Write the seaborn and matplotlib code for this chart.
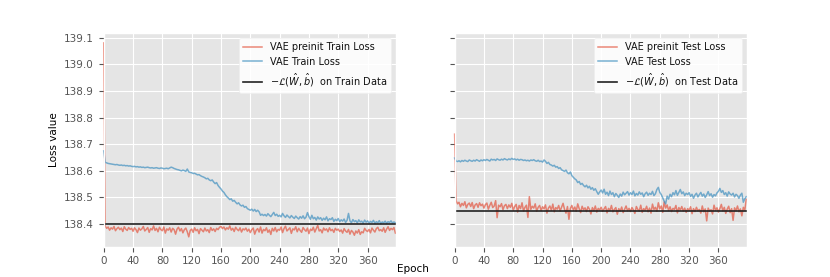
import numpy as np
import matplotlib
matplotlib.use('Agg')
import matplotlib.pyplot as plt
import seaborn as sns

# loss values, every 2nd epoch, in units of 0.001 above 138.0
epochs = list(range(0, 400, 2))

train_preinit = [
    1081, 392, 384, 389, 377, 386, 381, 391, 375, 383, 388, 379, 385, 372, 390, 381, 376, 387, 380, 384,
    373, 386, 379, 368, 385, 377, 382, 391, 374, 380, 387, 369, 383, 378, 393, 376, 384, 371, 388, 379,
    375, 389, 366, 382, 377, 386, 370, 384, 379, 362, 381, 388, 374, 383, 367, 379, 385, 371, 352, 376,
    381, 369, 386, 375, 380, 364, 383, 377, 371, 385, 374, 379, 368, 387, 376, 382, 372, 384, 379, 388,
    391, 383, 389, 378, 386, 381, 393, 377, 384, 372, 388, 380, 375, 386, 370, 382, 378, 385, 373, 381,
    368, 379, 385, 362, 377, 383, 370, 389, 366, 380, 375, 386, 369, 378, 361, 384, 374, 387, 371, 380,
    377, 389, 368, 383, 392, 374, 380, 386, 365, 382, 378, 390, 371, 384, 376, 369, 387, 379, 373, 385,
    364, 381, 376, 388, 370, 383, 395, 374, 379, 367, 385, 377, 382, 371, 386, 375, 380, 369, 384, 377,
    381, 372, 378, 366, 383, 374, 369, 380, 362, 376, 370, 358, 374, 366, 379, 361, 371, 367, 384, 376,
    372, 380, 367, 385, 377, 370, 383, 388, 375, 379, 373, 386, 369, 381, 390, 376, 384, 379, 387, 366,
]

train_vae = [
    675, 632, 630, 628, 627, 626, 625, 624, 623, 624, 622, 621, 622, 620, 621, 619, 620, 618, 619, 617,
    616, 617, 615, 616, 614, 615, 613, 614, 612, 613, 614, 612, 611, 612, 610, 611, 612, 610, 609, 611,
    610, 608, 609, 610, 608, 611, 614, 612, 609, 607, 605, 604, 602, 600, 603, 601, 598, 607, 596, 594,
    593, 590, 591, 588, 585, 586, 582, 579, 577, 574, 570, 572, 566, 563, 566, 558, 552, 556, 545, 538,
    532, 524, 519, 510, 503, 498, 492, 495, 486, 489, 482, 476, 480, 472, 468, 471, 463, 466, 458, 455,
    452, 456, 449, 455, 447, 452, 446, 433, 437, 432, 436, 430, 439, 433, 428, 436, 444, 432, 437, 429,
    433, 427, 440, 431, 425, 434, 428, 423, 432, 426, 421, 430, 424, 419, 428, 422, 431, 420, 426, 443,
    428, 418, 433, 420, 425, 415, 427, 419, 424, 414, 422, 416, 427, 412, 420, 417, 424, 410, 418, 413,
    421, 409, 416, 411, 419, 406, 414, 440, 412, 405, 417, 409, 413, 404, 416, 408, 411, 403, 415, 407,
    412, 404, 410, 406, 414, 403, 409, 405, 413, 402, 408, 405, 411, 403, 409, 406, 412, 404, 408, 405,
]

test_preinit = [
    738, 488, 476, 482, 465, 478, 470, 484, 461, 474, 479, 466, 481, 458, 472, 477, 463, 480, 469, 475,
    460, 473, 479, 456, 470, 482, 462, 468, 488, 424, 471, 465, 477, 454, 469, 474, 458, 472, 463, 478,
    452, 466, 474, 445, 470, 458, 480, 449, 463, 471, 425, 503, 455, 467, 460, 476, 448, 463, 470, 451,
    465, 457, 472, 441, 460, 468, 452, 475, 446, 462, 456, 470, 449, 463, 478, 455, 441, 466, 418, 459,
    470, 452, 464, 448, 476, 458, 443, 467, 454, 461, 447, 465, 456, 438, 462, 450, 468, 445, 459, 453,
    463, 448, 457, 466, 442, 459, 451, 470, 446, 455, 462, 437, 458, 449, 464, 443, 456, 468, 450, 459,
    447, 462, 453, 440, 466, 455, 449, 471, 444, 458, 452, 467, 446, 460, 441, 475, 455, 463, 448, 480,
    457, 468, 444, 483, 460, 472, 451, 465, 447, 459, 455, 470, 442, 462, 453, 466, 449, 460, 444, 458,
    452, 465, 439, 458, 447, 463, 450, 455, 441, 468, 446, 457, 412, 460, 449, 454, 438, 471, 452, 461,
    445, 458, 474, 449, 463, 440, 456, 467, 443, 458, 414, 461, 450, 468, 446, 457, 431, 463, 452, 493,
]

test_vae = [
    648, 637, 635, 638, 634, 639, 636, 640, 637, 635, 641, 638, 636, 640, 637, 642, 639, 636, 641, 638,
    642, 639, 643, 640, 637, 644, 641, 643, 639, 645, 642, 640, 644, 641, 646, 643, 641, 645, 642, 647,
    643, 645, 641, 644, 640, 643, 642, 639, 641, 638, 640, 637, 641, 639, 642, 638, 636, 640, 635, 637,
    633, 641, 636, 628, 632, 624, 622, 618, 621, 614, 616, 609, 612, 604, 601, 598, 603, 593, 589, 596,
    582, 576, 570, 566, 556, 560, 549, 553, 545, 540, 546, 536, 542, 531, 537, 527, 533, 522, 512, 521,
    528, 517, 531, 512, 520, 507, 524, 511, 518, 503, 515, 508, 500, 513, 505, 520, 510, 516, 522, 509,
    518, 511, 524, 506, 515, 509, 521, 512, 517, 503, 514, 520, 508, 516, 511, 523, 507, 514, 530, 538,
    519, 511, 498, 486, 476, 505, 494, 512, 503, 518, 510, 526, 508, 519, 530, 514, 521, 507, 516, 511,
    518, 504, 512, 497, 509, 516, 502, 511, 519, 505, 513, 500, 510, 522, 507, 514, 501, 511, 506, 517,
    523, 534, 519, 526, 511, 518, 505, 521, 513, 509, 516, 502, 512, 507, 497, 509, 516, 482, 495, 503,
]

# -L(W_hat, b_hat) reference levels
ref_train = 401
ref_test = 448

x_ticks = list(range(0, 400, 40))


def to_loss(vals):
    return 138.0 + np.array(vals) / 1000.0


plt.style.use('ggplot')
plt.rcParams['font.family'] = ['DejaVu Sans']
plt.rcParams['font.size'] = 7.5

fig, axs = plt.subplots(1, 2, figsize=(8.3, 2.77), dpi=100, sharey=True)

panels = [
    (axs[0], train_preinit, train_vae, ref_train, 'Train'),
    (axs[1], test_preinit, test_vae, ref_test, 'Test'),
]

for ax, pre, vae, ref, name in panels:
    sns.lineplot(x=epochs, y=to_loss(pre), ax=ax, color='#E24A33', alpha=0.65,
                 linewidth=1.1, label=f'VAE preinit {name} Loss')
    sns.lineplot(x=epochs, y=to_loss(vae), ax=ax, color='#348ABD', alpha=0.65,
                 linewidth=1.1, label=f'VAE {name} Loss')
    for ln in ax.lines:
        ln.set_clip_on(False)
    ax.axhline(138.0 + ref / 1000.0, color='#222222', linewidth=1.2,
               label=r'$-\mathcal{L}(\hat{W},\hat{b})$  on ' + f'{name} Data')
    ax.set_xlim(0, 399)
    ax.set_xticks(x_ticks)
    ax.tick_params(labelsize=7.5, colors='#555555')
    leg = ax.legend(loc='upper right', fontsize=7, facecolor='white',
                    framealpha=0.85, edgecolor='#EEEEEE')
    for t in leg.get_texts():
        t.set_color('#111111')

axs[0].set_yticks([138.4, 138.5, 138.6, 138.7, 138.8, 138.9, 139.0, 139.1])
axs[0].set_ylabel('Loss value', fontsize=7.5, color='black')
fig.text(0.497, 0.03, 'Epoch', ha='center', va='center', fontsize=7.5, color='black')

fig.savefig('out.png', dpi=100)
